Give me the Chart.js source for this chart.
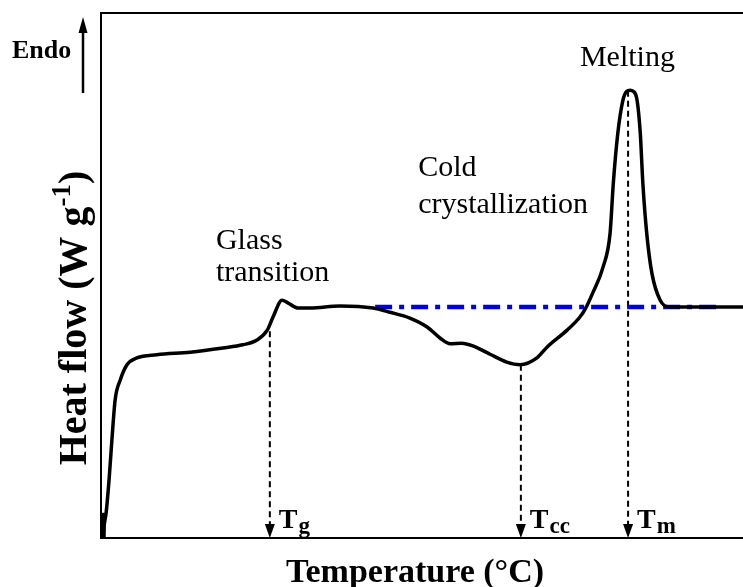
<!DOCTYPE html>
<html>
<head>
<meta charset="utf-8">
<script src="https://cdn.jsdelivr.net/npm/chart.js@4/dist/chart.umd.min.js"></script>
<style>
  html, body { margin: 0; padding: 0; background: #fff; }
  #wrap { width: 743px; height: 587px; position: relative; }
</style>
</head>
<body>
<div id="wrap"><canvas id="dsc" width="743" height="587"></canvas></div>
<script>
// Curva DSC (unidades arbitrarias: temperatura 0-100, flujo 0-100).
const tempVals = [0.3, 0.5, 0.8, 1.25, 1.7, 2.2, 3.0, 4.05, 5.6, 8.7, 13.9, 19.0, 22.1, 24.3,
  25.9, 26.8, 28.2, 29.1, 30.7, 32.6, 37.2, 42.4, 45.0, 48.1, 50.8, 52.8, 54.4, 56.2, 57.9,
  60.6, 63.2, 65.3, 67.9, 69.5, 72.6, 74.6, 75.5, 76.6, 78.2, 79.3, 79.8, 80.5, 81.3, 81.9,
  82.4, 82.9, 83.5, 84.0, 84.4, 85.0, 85.8, 87.1, 88.6, 93.3, 100];
const heatVals = [0, 2.5, 4.8, 11.0, 18.7, 26.3, 30.1, 33.0, 34.3, 34.9, 35.4, 36.2, 36.8, 37.7,
  39.6, 42.1, 45.3, 44.8, 43.8, 43.8, 44.2, 43.8, 43.0, 41.9, 40.2, 38.1, 37.0, 37.1, 36.6,
  35.0, 33.5, 33.0, 34.3, 36.4, 39.6, 42.1, 43.8, 46.7, 51.6, 58.1, 67.6, 77.1, 83.4, 85.1,
  85.3, 85.1, 83.4, 77.1, 67.6, 58.1, 50.5, 45.3, 44.0, 44.0, 44.0];

// Tramo inicial grueso (arranque del barrido).
const arranqueX = [0.35, 0.35];
const arranqueY = [0, 4.8];

// Línea base (trazo-punto azul).
const baseX = [42.7, 96.7];
const baseY = [44.0, 44.0];

// Temperaturas características y la altura de la curva en cada una.
const marcas = ["g", "cc", "m"];
const marcaX = [26.3, 65.4, 82.1];
const marcaY = [39.4, 33.0, 85.2];

const COLORS = { negro: "#000000", azul: "#0000DD" };
const SERIF = "'Liberation Serif', 'Times New Roman', serif";

const curva = tempVals.map((x, i) => ({ x, y: heatVals[i] }));
const arranque = arranqueX.map((x, i) => ({ x, y: arranqueY[i] }));
const base = baseX.map((x, i) => ({ x, y: baseY[i] }));
const caidas = marcaX.map((x, i) => ({
  data: [{ x, y: marcaY[i] }, { x, y: 2.2 }],
  showLine: true, borderColor: COLORS.negro, borderWidth: 2,
  borderDash: [6, 4], pointRadius: 0
}));

// Marco, flechas, rótulos y títulos.
const anotaciones = {
  id: "anotaciones",
  afterDatasetsDraw(chart) {
    const { ctx, chartArea: a, scales: { x, y } } = chart;
    ctx.save();
    ctx.strokeStyle = COLORS.negro;
    ctx.fillStyle = COLORS.negro;
    ctx.lineWidth = 2;
    ctx.beginPath();
    ctx.moveTo(a.right, a.top); ctx.lineTo(a.left, a.top);
    ctx.lineTo(a.left, a.bottom); ctx.lineTo(a.right, a.bottom);
    ctx.stroke();

    // puntas de flecha sobre el eje
    marcaX.forEach(v => {
      const px = x.getPixelForValue(v), py = y.getPixelForValue(0);
      ctx.beginPath();
      ctx.moveTo(px, py); ctx.lineTo(px - 5, py - 14); ctx.lineTo(px + 5, py - 14);
      ctx.closePath(); ctx.fill();
    });

    // T_g, T_cc, T_m
    marcas.forEach((s, i) => {
      const px = x.getPixelForValue(marcaX[i]) + 9;
      const py = y.getPixelForValue(0) - 10;
      ctx.font = "bold 28px " + SERIF;
      ctx.textAlign = "left"; ctx.textBaseline = "alphabetic";
      ctx.fillText("T", px, py);
      const w = ctx.measureText("T").width;
      ctx.font = "bold 23px " + SERIF;
      ctx.fillText(s, px + w + 1, py + 5);
    });

    // rótulos de las transiciones
    ctx.font = "30px " + SERIF;
    ctx.textAlign = "left";
    const rot = (txt, vx, vy) => ctx.fillText(txt, x.getPixelForValue(vx), y.getPixelForValue(vy));
    rot("Glass", 17.9, 55.0);
    rot("transition", 17.9, 48.9);
    rot("Cold", 49.4, 69.0);
    rot("crystallization", 49.4, 61.9);
    rot("Melting", 74.6, 90.0);

    // Endo + flecha
    ctx.font = "bold 26px " + SERIF;
    ctx.fillText("Endo", 12, 58);
    ctx.lineWidth = 2.5;
    ctx.beginPath(); ctx.moveTo(83, 93); ctx.lineTo(83, 30); ctx.stroke();
    ctx.beginPath(); ctx.moveTo(83, 17); ctx.lineTo(78.5, 33); ctx.lineTo(87.5, 33); ctx.closePath(); ctx.fill();

    // título eje X
    ctx.font = "bold 34px " + SERIF;
    ctx.textAlign = "center";
    ctx.fillText("Temperature (\u00B0C)", 415, 582);

    // título eje Y (con superíndice)
    ctx.translate(86, 318);
    ctx.rotate(-Math.PI / 2);
    const f1 = "bold 40px " + SERIF, f2 = "bold 27px " + SERIF;
    ctx.font = f1;
    const p1 = "Heat flow (W g", p3 = ")";
    const w1 = ctx.measureText(p1).width, w3 = ctx.measureText(p3).width;
    ctx.font = f2;
    const w2 = ctx.measureText("-1").width;
    let cx = -(w1 + w2 + w3) / 2;
    ctx.textAlign = "left";
    ctx.font = f1; ctx.fillText(p1, cx, 0); cx += w1;
    ctx.font = f2; ctx.fillText("-1", cx, -16); cx += w2;
    ctx.font = f1; ctx.fillText(p3, cx, 0);
    ctx.restore();
  }
};

new Chart(document.getElementById("dsc"), {
  type: "scatter",
  data: {
    datasets: [
      {
        data: curva, showLine: true, borderColor: COLORS.negro, borderWidth: 3.5,
        pointRadius: 0, cubicInterpolationMode: "monotone"
      },
      {
        data: arranque, showLine: true, borderColor: COLORS.negro, borderWidth: 5,
        pointRadius: 0
      },
      {
        data: base, showLine: true, borderColor: COLORS.azul, borderWidth: 4.5,
        borderDash: [17, 7, 5, 7], pointRadius: 0
      },
      ...caidas
    ]
  },
  options: {
    responsive: false,
    animation: false,
    layout: { padding: { left: 101, top: 13, right: 0, bottom: 49 } },
    plugins: { legend: { display: false }, tooltip: { enabled: false } },
    scales: {
      x: { type: "linear", min: 0, max: 100, display: false },
      y: { type: "linear", min: 0, max: 100, display: false }
    }
  },
  plugins: [anotaciones]
});
</script>
</body>
</html>
